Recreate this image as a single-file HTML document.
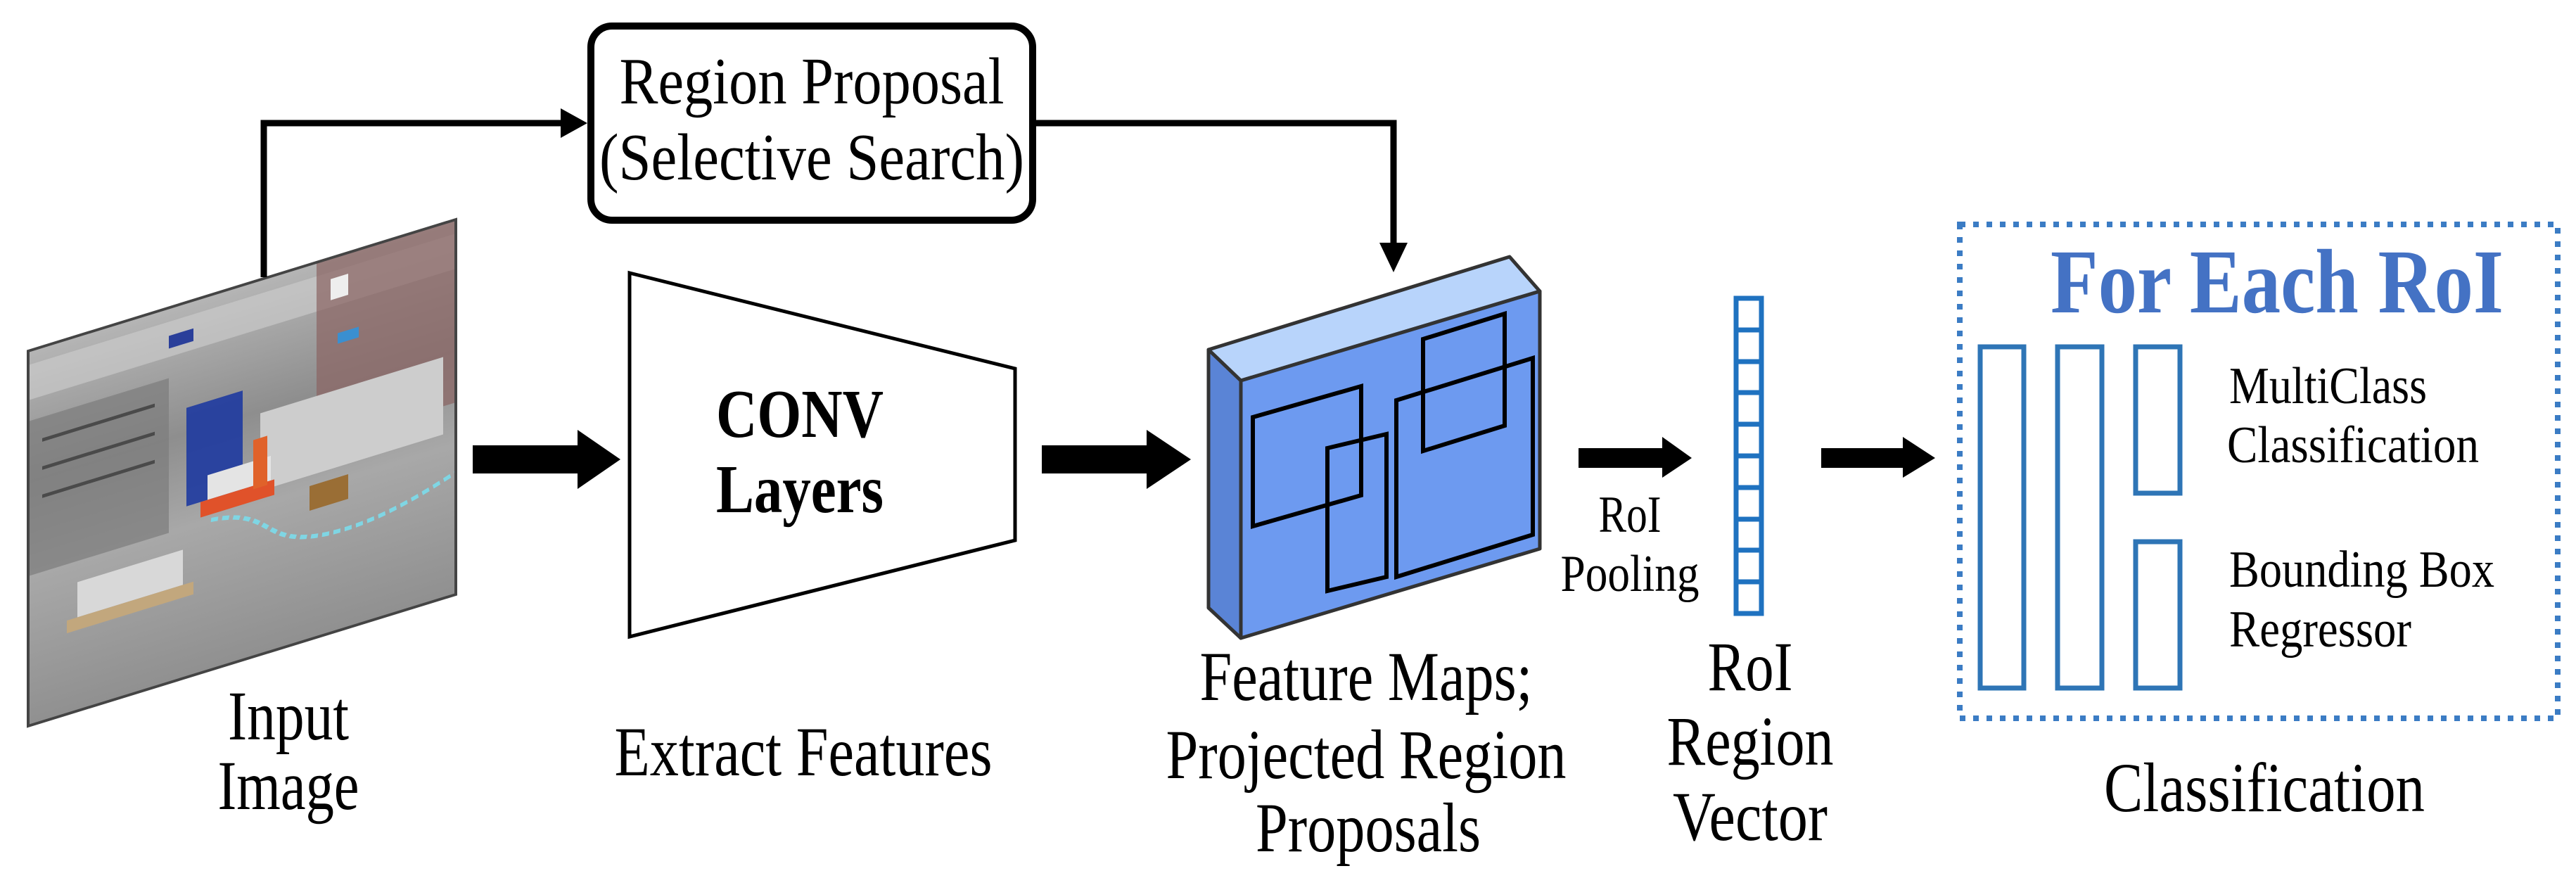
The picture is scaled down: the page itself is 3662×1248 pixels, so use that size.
<!DOCTYPE html>
<html><head><meta charset="utf-8"><style>
html,body{margin:0;padding:0;background:#fff;}
svg{display:block;}
text{font-family:"Liberation Serif",serif;fill:#000;}
</style></head><body>
<svg width="3662" height="1248" viewBox="0 0 3662 1248" xmlns="http://www.w3.org/2000/svg">
<defs>
<linearGradient id="floor" x1="0" y1="0" x2="0" y2="1">
<stop offset="0" stop-color="#b5b5b5"/><stop offset="0.35" stop-color="#8e8e8e"/><stop offset="0.6" stop-color="#a8a8a8"/><stop offset="1" stop-color="#909090"/>
</linearGradient>
<clipPath id="imgclip"><rect x="0" y="0" width="608" height="533"/></clipPath>
</defs>

<!-- Input image -->
<g transform="matrix(1,-0.3076,0,1,40,499)">
<g clip-path="url(#imgclip)">
<rect x="0" y="0" width="608" height="533" fill="url(#floor)"/>
<rect x="0" y="20" width="608" height="50" fill="#cfcfcf" opacity="0.6"/>
<rect x="0" y="100" width="200" height="220" fill="#7c7c7c" opacity="0.7"/>
<rect x="20" y="130" width="160" height="5" fill="#4a4a4a"/>
<rect x="20" y="170" width="160" height="5" fill="#4a4a4a"/>
<rect x="20" y="210" width="160" height="5" fill="#4a4a4a"/>
<rect x="410" y="0" width="198" height="260" fill="#8a6462" opacity="0.7"/>
<rect x="430" y="30" width="25" height="30" fill="#eeeeee"/>
<rect x="440" y="110" width="30" height="15" fill="#3a8fd0"/>
<rect x="330" y="190" width="260" height="110" fill="#cdcdcd"/>
<rect x="225" y="150" width="80" height="140" fill="#1e3aa0" opacity="0.9"/>
<rect x="200" y="40" width="35" height="18" fill="#2a3f9a"/>
<rect x="255" y="255" width="90" height="35" fill="#e4e4e4"/>
<rect x="245" y="290" width="105" height="22" fill="#e0522a"/>
<rect x="320" y="225" width="20" height="70" fill="#e0622a"/>
<rect x="400" y="315" width="55" height="35" fill="#9a6e35"/>
<rect x="70" y="350" width="150" height="50" fill="#d8d8d8"/>
<rect x="55" y="400" width="180" height="18" fill="#c2a77d"/>
<path d="M260 320 C 350 330, 330 380, 420 390 S 600 360, 608 360" stroke="#7fd6e4" stroke-width="6" stroke-dasharray="10 6" fill="none"/>
</g>
<rect x="0" y="0" width="608" height="533" fill="none" stroke="#444" stroke-width="4"/>
</g>

<!-- connector from image to Region Proposal -->
<polyline points="375,394 375,175 800,175" fill="none" stroke="#000" stroke-width="9"/>
<polygon points="797,154 835,175 797,196" fill="#000"/>

<!-- Region Proposal box -->
<rect x="840" y="37" width="628" height="276" rx="30" ry="30" fill="#fff" stroke="#000" stroke-width="10"/>
<text x="1154" y="147" font-size="94" text-anchor="middle" textLength="547" lengthAdjust="spacingAndGlyphs">Region Proposal</text>
<text x="1154" y="255" font-size="94" text-anchor="middle" textLength="604" lengthAdjust="spacingAndGlyphs">(Selective Search)</text>

<!-- connector to feature map -->
<polyline points="1473,175 1981,175 1981,350" fill="none" stroke="#000" stroke-width="9"/>
<polygon points="1961,345 2001,345 1981,387" fill="#000"/>

<!-- CONV trapezoid -->
<polygon points="895,388 1443,524 1443,768 895,905" fill="#fff" stroke="#000" stroke-width="5"/>
<text x="1137" y="621" font-size="98" font-weight="bold" text-anchor="middle" textLength="238" lengthAdjust="spacingAndGlyphs">CONV</text>
<text x="1137" y="728" font-size="98" font-weight="bold" text-anchor="middle" textLength="238" lengthAdjust="spacingAndGlyphs">Layers</text>

<!-- thick arrows -->
<polygon points="672,633 821,633 821,611 882,653 821,695 821,673 672,673" fill="#000"/>
<polygon points="1481,633 1630,633 1630,611 1693,653 1630,695 1630,673 1481,673" fill="#000"/>
<polygon points="2244,637 2363,637 2363,621 2405,651 2363,679 2363,665 2244,665" fill="#000"/>
<polygon points="2589,637 2705,637 2705,621 2751,651 2705,679 2705,665 2589,665" fill="#000"/>

<!-- Feature map 3D -->
<polygon points="1718,497 1764,541 1764,907 1718,864" fill="#5a84d6" stroke="#333" stroke-width="5" stroke-linejoin="round"/>
<polygon points="1718,497 2146,365 2189,414 1764,541" fill="#b8d4fb" stroke="#333" stroke-width="5" stroke-linejoin="round"/>
<polygon points="1764,541 2189,414 2189,780 1764,907" fill="#6d9af0" stroke="#333" stroke-width="5" stroke-linejoin="round"/>
<g fill="none" stroke="#000" stroke-width="6">
<polygon points="1781,593 1935,549 1935,704 1781,748"/>
<polygon points="1887,637 1971,617 1971,820 1887,840"/>
<polygon points="1985,569 2179,509 2179,760 1985,820"/>
<polygon points="2023,482 2139,446 2139,605 2023,641"/>
</g>

<!-- RoI Pooling label -->
<text x="2317" y="756" font-size="74" text-anchor="middle" textLength="89" lengthAdjust="spacingAndGlyphs">RoI</text>
<text x="2317" y="840" font-size="74" text-anchor="middle" textLength="197" lengthAdjust="spacingAndGlyphs">Pooling</text>

<!-- RoI vector -->
<g fill="none" stroke="#1f72c0" stroke-width="7">
<rect x="2468" y="424" width="36" height="448"/>
<line x1="2468" y1="469" x2="2504" y2="469"/>
<line x1="2468" y1="514" x2="2504" y2="514"/>
<line x1="2468" y1="558" x2="2504" y2="558"/>
<line x1="2468" y1="603" x2="2504" y2="603"/>
<line x1="2468" y1="648" x2="2504" y2="648"/>
<line x1="2468" y1="693" x2="2504" y2="693"/>
<line x1="2468" y1="738" x2="2504" y2="738"/>
<line x1="2468" y1="782" x2="2504" y2="782"/>
<line x1="2468" y1="827" x2="2504" y2="827"/>
</g>

<!-- Dotted classification box -->
<rect x="2786" y="319" width="850" height="702" fill="none" stroke="#3b7cc4" stroke-width="8" stroke-dasharray="8 11"/>
<text x="3237" y="444" font-size="130" font-weight="bold" text-anchor="middle" textLength="644" lengthAdjust="spacingAndGlyphs" style="fill:#4472c4">For Each RoI</text>
<g fill="none" stroke="#2e75b6" stroke-width="7">
<rect x="2815" y="493" width="62" height="485"/>
<rect x="2925" y="493" width="63" height="485"/>
<rect x="3036" y="493" width="63" height="208"/>
<rect x="3036" y="770" width="63" height="208"/>
</g>
<text x="3169" y="573" font-size="74" textLength="281" lengthAdjust="spacingAndGlyphs">MultiClass</text>
<text x="3166" y="657" font-size="74" textLength="358" lengthAdjust="spacingAndGlyphs">Classification</text>
<text x="3169" y="834" font-size="74" textLength="377" lengthAdjust="spacingAndGlyphs">Bounding Box</text>
<text x="3169" y="919" font-size="74" textLength="259" lengthAdjust="spacingAndGlyphs">Regressor</text>

<!-- Bottom labels -->
<text x="410" y="1051" font-size="100" text-anchor="middle" textLength="172" lengthAdjust="spacingAndGlyphs">Input</text>
<text x="410" y="1150" font-size="100" text-anchor="middle" textLength="201" lengthAdjust="spacingAndGlyphs">Image</text>
<text x="1142" y="1102" font-size="100" text-anchor="middle" textLength="537" lengthAdjust="spacingAndGlyphs">Extract Features</text>
<text x="1942" y="995" font-size="100" text-anchor="middle" textLength="473" lengthAdjust="spacingAndGlyphs">Feature Maps;</text>
<text x="1942" y="1106" font-size="100" text-anchor="middle" textLength="569" lengthAdjust="spacingAndGlyphs">Projected Region</text>
<text x="1945" y="1210" font-size="100" text-anchor="middle" textLength="320" lengthAdjust="spacingAndGlyphs">Proposals</text>
<text x="2488" y="981" font-size="100" text-anchor="middle" textLength="121" lengthAdjust="spacingAndGlyphs">RoI</text>
<text x="2488" y="1087" font-size="100" text-anchor="middle" textLength="237" lengthAdjust="spacingAndGlyphs">Region</text>
<text x="2488" y="1194" font-size="100" text-anchor="middle" textLength="220" lengthAdjust="spacingAndGlyphs">Vector</text>
<text x="3219" y="1153" font-size="100" text-anchor="middle" textLength="456" lengthAdjust="spacingAndGlyphs">Classification</text>
</svg>
</body></html>
